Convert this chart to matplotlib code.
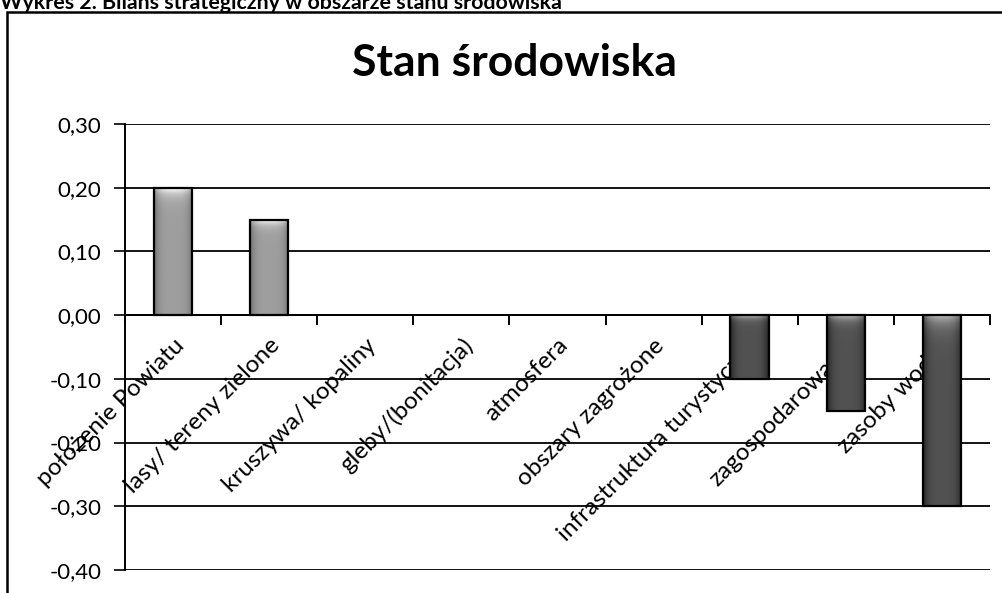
import numpy as np
import matplotlib
matplotlib.use("Agg")
import matplotlib.pyplot as plt
from matplotlib.patches import Rectangle
from matplotlib.ticker import FuncFormatter, FixedLocator

# Data
categories = ["położenie Powiatu", "lasy/ tereny zielone", "kruszywa/ kopaliny",
              "gleby/(bonitacja)", "atmosfera", "obszary zagrożone",
              "infrastruktura turystyczna", "zagospodarowanie", "zasoby wodne"]
values = [0.20, 0.15, 0.0, 0.0, 0.0, 0.0, -0.10, -0.15, -0.30]
y_ticks = [-0.40, -0.30, -0.20, -0.10, 0.0, 0.10, 0.20, 0.30]

plt.rcParams["font.family"] = ["Lato", "DejaVu Sans"]

fig = plt.figure(figsize=(10.03, 5.93), dpi=100)
ax = fig.add_axes([125 / 1003, 1 - 570 / 593, 865 / 1003, 446 / 593])

x = np.arange(len(categories))
bars = ax.bar(x, values, width=0.4, facecolor="none", edgecolor="black",
              linewidth=1.6, zorder=3)

# shaded fill inside each bar
for rect, v in zip(bars, values):
    if v == 0:
        rect.set_linewidth(0)
        continue
    bx, by = rect.get_x(), rect.get_y()
    bw, bh = rect.get_width(), rect.get_height()
    hx = np.linspace(-1, 1, 40)
    hy = np.linspace(0, 1, 60)[:, None]
    base = 0.62 if v > 0 else 0.32
    img = base - 0.18 * hx[None, :] ** 4
    img = img + 0.4 * np.exp(-(1 - hy) / 0.05) * (1 - 0.5 * hx[None, :] ** 2)
    img = np.clip(img, 0, 1)
    top = max(by, by + bh)
    bottom = min(by, by + bh)
    im = ax.imshow(img, cmap="gray", vmin=0, vmax=1, aspect="auto",
                   extent=(bx, bx + bw, bottom, top), origin="lower",
                   zorder=2.9, interpolation="bilinear")
    im.set_clip_path(rect)

ax.set_xlim(-0.5, len(categories) - 0.5)
ax.set_ylim(-0.40, 0.30)

ax.set_yticks(y_ticks)
ax.yaxis.set_major_formatter(FuncFormatter(lambda v, p: f"{v:.2f}".replace(".", ",")))
ax.tick_params(axis="y", length=8, width=1.2, labelsize=16, pad=9)
ax.grid(axis="y", color="black", linewidth=1.3)
ax.set_axisbelow(True)

# x axis at zero with ticks between categories
ax.spines["bottom"].set_position(("data", 0))
ax.spines["top"].set_visible(False)
ax.spines["right"].set_visible(False)
ax.spines["left"].set_linewidth(1.4)
ax.spines["bottom"].set_linewidth(1.3)
ax.xaxis.set_major_locator(FixedLocator(np.arange(len(categories) + 1) - 0.5))
ax.xaxis.set_major_formatter(FuncFormatter(lambda v, p: ""))
ax.set_xticks(x, categories, minor=True)
ax.tick_params(axis="x", which="major", length=7, width=1.4, direction="out")
ax.tick_params(axis="x", which="minor", length=0, labelsize=17.5, pad=14)
for lab in ax.get_xticklabels(minor=True):
    lab.set_rotation(45)
    lab.set_ha("right")
    lab.set_va("top")
    lab.set_rotation_mode("anchor")

fig.text(515 / 1003, 1 - 63 / 593, "Stan środowiska", ha="center", va="center",
         fontsize=32, fontweight="bold")
fig.text(0.0, 1 - 9 / 593, "Wykres 2. Bilans strategiczny w obszarze stanu środowiska",
         ha="left", va="baseline", fontsize=15.4, fontweight="bold")

fig.patches.append(Rectangle((7 / 1003, -0.1), 1.2, 1.1 - 12 / 593,
                             transform=fig.transFigure, fill=False,
                             edgecolor="black", linewidth=1.8))

fig.savefig("out.png", dpi=100)
